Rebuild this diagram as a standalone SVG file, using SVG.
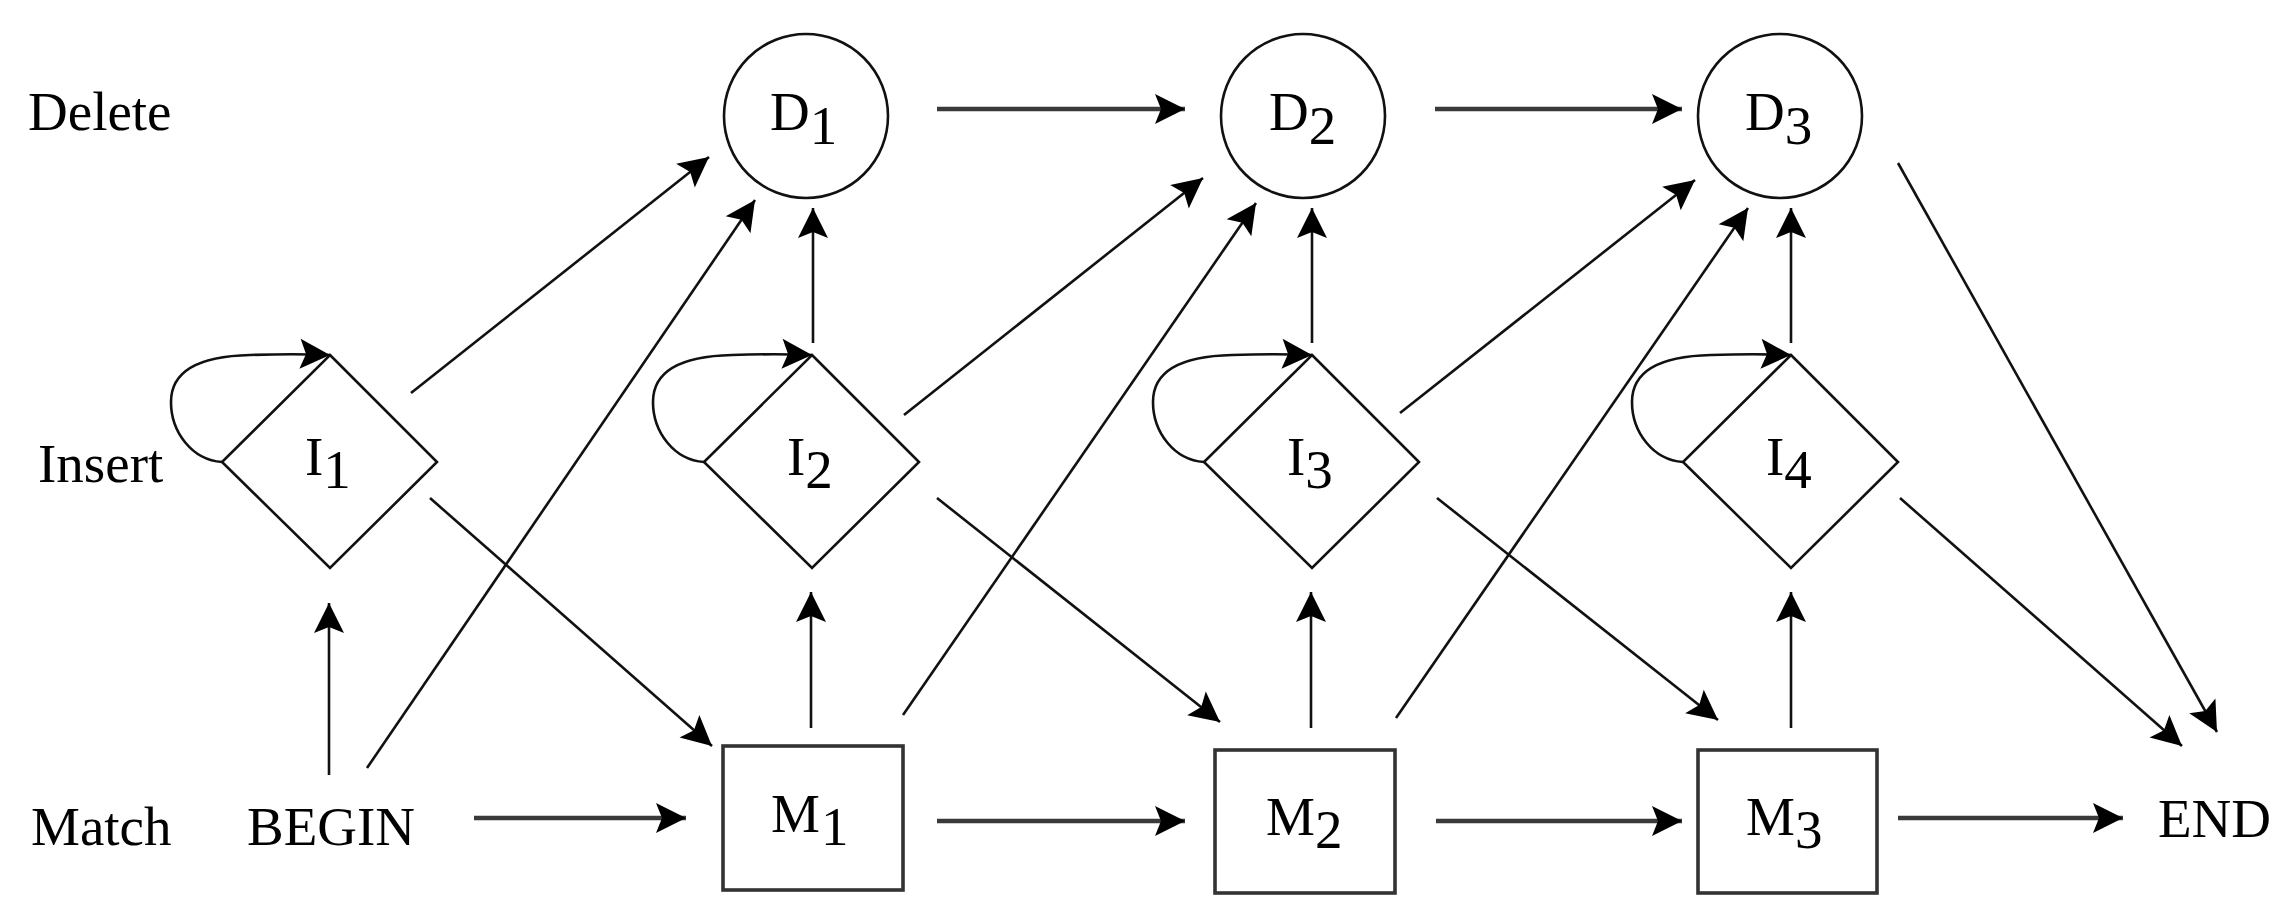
<svg xmlns="http://www.w3.org/2000/svg" width="2295" height="920" viewBox="0 0 2295 920">
<defs>
<style>
.t{font-family:"Liberation Serif","Times New Roman",serif;font-size:55px;fill:#000}
.node{fill:none;stroke:#111;stroke-width:2.6}
.box{fill:none;stroke:#333;stroke-width:3.6}
.e{fill:none;stroke:#111;stroke-width:2.6;marker-end:url(#ah)}
.h{fill:none;stroke:#3a3a3a;stroke-width:4.5;marker-end:url(#ah)}
</style>
<marker id="ah" markerUnits="userSpaceOnUse" markerWidth="32" markerHeight="32" refX="30" refY="15" orient="auto" overflow="visible">
<path d="M0,0 L30,15 L0,30 L6,15 Z" fill="#000"/>
</marker>
</defs>
<rect width="2295" height="920" fill="#fff"/>
<g id="row-labels">
<text class="t" x="28" y="130">Delete</text>
<text class="t" x="38" y="482">Insert</text>
<text class="t" x="31" y="845">Match</text>
</g>
<g id="BEGIN"><text class="t" x="247" y="845">BEGIN</text></g>
<g id="END"><text class="t" x="2158" y="837">END</text></g>
<g id="D1"><circle class="node" cx="806" cy="116" r="82"/><text class="t" x="770" y="130">D<tspan dy="14">1</tspan></text></g>
<g id="D2"><circle class="node" cx="1303" cy="116" r="82"/><text class="t" x="1269" y="130">D<tspan dy="14">2</tspan></text></g>
<g id="D3"><circle class="node" cx="1780" cy="116" r="82"/><text class="t" x="1745" y="130">D<tspan dy="14">3</tspan></text></g>
<g id="I1"><path class="node" d="M330,355 L437,462 L330,568 L222,462 Z"/><text class="t" x="305" y="475">I<tspan dy="13">1</tspan></text></g>
<g id="I2"><path class="node" d="M812,355 L919,462 L812,568 L704,462 Z"/><text class="t" x="787" y="475">I<tspan dy="13">2</tspan></text></g>
<g id="I3"><path class="node" d="M1312,355 L1419,462 L1312,568 L1204,462 Z"/><text class="t" x="1287" y="475">I<tspan dy="13">3</tspan></text></g>
<g id="I4"><path class="node" d="M1791,355 L1898,462 L1791,568 L1683,462 Z"/><text class="t" x="1766" y="475">I<tspan dy="13">4</tspan></text></g>
<g id="M1"><rect class="box" x="723" y="746" width="180" height="144"/><text class="t" x="771" y="832">M<tspan dx="1" dy="13">1</tspan></text></g>
<g id="M2"><rect class="box" x="1215" y="750" width="180" height="143"/><text class="t" x="1266" y="835">M<tspan dy="13">2</tspan></text></g>
<g id="M3"><rect class="box" x="1698" y="750" width="179" height="143"/><text class="t" x="1746" y="835">M<tspan dy="13">3</tspan></text></g>
<g id="connectors">
<line class="h" x1="937" y1="109" x2="1185" y2="109"/>
<line class="h" x1="1435" y1="109" x2="1682" y2="109"/>
<line class="h" x1="474" y1="818" x2="686" y2="818"/>
<line class="h" x1="937" y1="821" x2="1185" y2="821"/>
<line class="h" x1="1436" y1="821" x2="1682" y2="821"/>
<line class="h" x1="1898" y1="818" x2="2123" y2="818"/>
<line class="e" x1="329" y1="775" x2="329" y2="603"/>
<line class="e" x1="811" y1="728" x2="811" y2="592"/>
<line class="e" x1="1311" y1="728" x2="1311" y2="592"/>
<line class="e" x1="1791" y1="728" x2="1791" y2="592"/>
<line class="e" x1="813" y1="343" x2="813" y2="208"/>
<line class="e" x1="1312" y1="343" x2="1312" y2="208"/>
<line class="e" x1="1791" y1="343" x2="1791" y2="208"/>
<line class="e" x1="411" y1="393" x2="709" y2="157"/>
<line class="e" x1="367" y1="768" x2="755" y2="200"/>
<line class="e" x1="904" y1="415" x2="1203" y2="178"/>
<line class="e" x1="903" y1="715" x2="1256" y2="203"/>
<line class="e" x1="1400" y1="413" x2="1695" y2="180"/>
<line class="e" x1="1396" y1="718" x2="1748" y2="208"/>
<line class="e" x1="430" y1="498" x2="712" y2="746"/>
<line class="e" x1="937" y1="498" x2="1220" y2="722"/>
<line class="e" x1="1437" y1="498" x2="1718" y2="720"/>
<line class="e" x1="1900" y1="498" x2="2182" y2="746"/>
<line class="e" x1="1898" y1="163" x2="2217" y2="732"/>
<path class="e" d="M222,462 C192,460 171,432 171,402 C171,368 205,356 250,355 C280,354 305,354 330,355"/>
<path class="e" d="M704,462 C674,460 653,432 653,402 C653,368 687,356 732,355 C762,354 787,354 812,355"/>
<path class="e" d="M1204,462 C1174,460 1153,432 1153,402 C1153,368 1187,356 1232,355 C1262,354 1287,354 1312,355"/>
<path class="e" d="M1683,462 C1653,460 1632,432 1632,402 C1632,368 1666,356 1711,355 C1741,354 1766,354 1791,355"/>
</g>
</svg>
